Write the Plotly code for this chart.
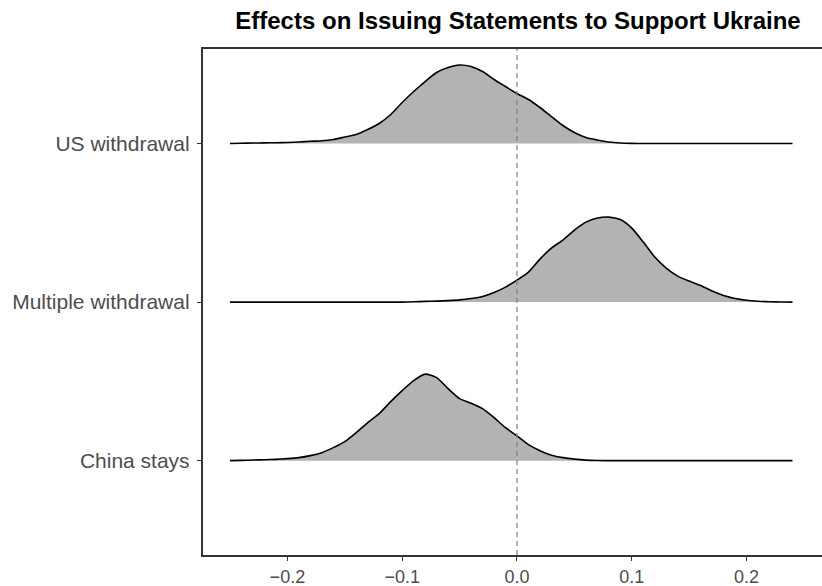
import numpy as np
import plotly.graph_objects as go

# ---- data ----
title = "Effects on Issuing Statements to Support Ukraine"
categories = ["China stays", "Multiple withdrawal", "US withdrawal"]  # bottom -> top
x_grid = [round(-0.25 + 0.01 * i, 2) for i in range(50)]  # -0.25 .. 0.24

# ridge heights (density, arbitrary units)
us_withdrawal = [0, 0.3, 0.5, 0.6, 0.8, 1, 1.5, 2.2, 2.7, 4, 6.5, 9, 14, 20, 29, 41, 52, 62, 71, 76,
                 78.5, 77, 72, 64, 57, 50, 44, 36, 27, 18, 11, 6, 3.5, 1.5, 0.5, 0.1, 0, 0, 0, 0,
                 0, 0, 0, 0, 0, 0, 0, 0, 0, 0]
multiple_withdrawal = [0, 0, 0, 0, 0, 0, 0, 0, 0, 0, 0, 0, 0, 0, 0, 0, 0.3, 0.7, 1, 1.5,
                       2.2, 3.5, 5.5, 9.5, 15, 22, 30, 43, 54, 62, 72, 80, 84, 85, 82.5, 74, 60, 45, 34, 26,
                       21, 16.5, 11, 6.5, 3.5, 1.8, 0.9, 0.4, 0.1, 0]
china_stays = [0, 0.3, 0.6, 0.9, 1.3, 2, 3, 5, 8, 13, 19, 28, 38, 47, 59, 70, 80, 86.5, 83, 72,
               62, 57.5, 52, 43, 33, 24.7, 16, 10, 5.5, 3, 1.5, 0.5, 0.1, 0, 0, 0, 0, 0, 0, 0,
               0, 0, 0, 0, 0, 0, 0, 0, 0, 0]
series = [china_stays, multiple_withdrawal, us_withdrawal]

x_ticks = [-0.2, -0.1, 0.0, 0.1, 0.2]
x_ticktext = ["\u22120.2", "\u22120.1", "0.0", "0.1", "0.2"]

height_scale = 1 / 158.6  # density units -> ridge height in category units

fig = go.Figure()
# draw top ridge first
for i in reversed(range(len(categories))):
    base = i + 1
    xs = np.array(x_grid)
    ys = base + np.array(series[i]) * height_scale
    fig.add_trace(go.Scatter(x=xs, y=np.full(len(xs), base), mode="lines",
                             line=dict(width=0, color="rgba(0,0,0,0)"),
                             hoverinfo="skip", showlegend=False))
    fig.add_trace(go.Scatter(x=xs, y=ys, mode="lines", fill="tonexty",
                             fillcolor="#B3B3B3",
                             line=dict(color="black", width=1.6, shape="spline", smoothing=0.6),
                             name=categories[i], showlegend=False))

fig.add_shape(type="line", x0=0, x1=0, xref="x", y0=0, y1=1, yref="paper",
              line=dict(color="#7F7F7F", width=1.2, dash="5px,4px"), layer="above")

axis_font = dict(family="Liberation Sans, Arial, sans-serif", color="#4D4D4D")
fig.update_layout(
    width=822, height=586,
    margin=dict(l=203, r=0, t=49, b=31),
    plot_bgcolor="white", paper_bgcolor="white",
    title=dict(text="<b>" + title + "</b>", x=518 / 822, xanchor="center", xref="container",
               y=1 - 21 / 586, yanchor="middle", yref="container",
               font=dict(family="Liberation Sans, Arial, sans-serif", size=24, color="black")),
    xaxis=dict(range=[-0.2735, 0.2657], tickvals=x_ticks, ticktext=x_ticktext,
               showgrid=False, zeroline=False, showline=True, linecolor="#333333", linewidth=2.4,
               mirror=True, ticks="outside", ticklen=4, tickwidth=1.1, tickcolor="#333333",
               tickfont=dict(size=18, **axis_font)),
    yaxis=dict(range=[0.405, 3.596], tickvals=[1, 2, 3], ticktext=categories,
               showgrid=False, zeroline=False, showline=True, linecolor="#333333", linewidth=2.4,
               mirror=False, ticks="outside", ticklen=4, tickwidth=1.1, tickcolor="#333333",
               ticklabelstandoff=3,
               tickfont=dict(size=21, **axis_font)),
)

fig.write_html("out.html")
